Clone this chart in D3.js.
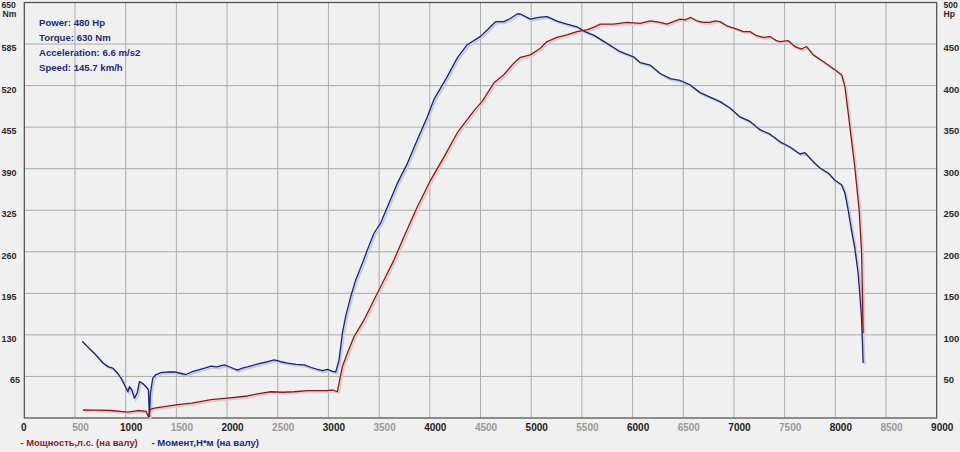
<!DOCTYPE html>
<html><head><meta charset="utf-8">
<script src="https://cdn.jsdelivr.net/npm/d3@7"></script>
<style>
html,body{margin:0;padding:0;background:#f0f0f0;}
svg{display:block;}
text{font-family:"Liberation Sans",Arial,sans-serif;font-weight:bold;}
</style></head>
<body><svg id="c" width="960" height="452"></svg>
<script>
// ---- data ----
const rpmTicks = [0,500,1000,1500,2000,2500,3000,3500,4000,4500,5000,5500,6000,6500,7000,7500,8000,8500,9000];
const torqueTicks = [65,130,195,260,325,390,455,520,585,650];
const powerTicks = [50,100,150,200,250,300,350,400,450,500];
const infoLines = ["Power: 480 Hp","Torque: 630 Nm","Acceleration: 6.6 m/s2","Speed: 145.7 km/h"];
const legendItems = ["- Мощность,л.с. (на валу)","- Момент,Н*м (на валу)"];

const torqueRpm = [571,620,692,775,830,873,920,955,988,1021,1037,1060,1086,1113,1136,1168,1201,1224,1234,1244,1267,1300,1349,1420,1480,1540,1595,1650,1710,1780,1841,1900,1972,2040,2104,2150,2202,2270,2334,2400,2465,2530,2596,2680,2760,2830,2892,2940,2990,3040,3072,3105,3138,3170,3220,3269,3335,3384,3449,3515,3597,3679,3778,3876,3975,4040,4172,4270,4369,4500,4566,4648,4730,4795,4861,4894,4992,5091,5156,5255,5353,5452,5534,5616,5747,5878,6009,6075,6174,6272,6370,6469,6568,6666,6764,6863,6961,7060,7158,7257,7355,7454,7552,7651,7700,7782,7848,7930,7995,8061,8094,8127,8159,8192,8225,8241,8258,8268,8274];
const torqueNm = [120,112,101,86,80,78,70,62,52,41,49,44,31,39,57,54,49,44,2,39,62,68,71,72,72,70,68,72,75,78,81,80,83,79,75,78,80,83,86,88,91,88,86,84,83,79,76,74,76,73,72,91,133,159,190,216,242,263,289,305,336,367,398,435,471,498,534,563,584,597,607,620,620,625,632,632,624,627,628,621,616,612,604,599,586,573,565,556,552,539,531,528,521,509,502,495,485,471,464,451,444,432,424,413,415,401,391,383,372,365,352,325,294,266,226,195,158,117,86];

const powerRpm = [578,700,857,950,1021,1120,1201,1224,1244,1283,1400,1513,1650,1750,1841,2005,2202,2300,2432,2550,2662,2793,2900,2990,3040,3088,3138,3187,3253,3351,3449,3548,3646,3745,3876,4007,4139,4270,4369,4450,4517,4631,4730,4828,4894,4992,5091,5156,5255,5353,5452,5550,5616,5681,5813,5944,6075,6174,6223,6272,6338,6403,6469,6518,6574,6633,6699,6764,6814,6863,6929,7027,7093,7158,7224,7290,7355,7421,7454,7536,7601,7667,7716,7782,7880,7995,8061,8094,8127,8159,8192,8235,8258,8268,8274];
const powerHp = [9.6,9.5,9,8,7,9,8,1.6,10.5,12,14,16,18,20,22,24,26.5,29,31.6,31,31.6,33,33,33,33.7,31.6,62,78,98,118,142,166,190,218,254,286,314,343,359,372,381,403,413,427,434,437,445,453,458,461,465,467,470,474,474,476,475,478,477,476,474,477,480,479,482,478,476,476,478,477,472,468,465,465,460,458,459,454,453,454,447,444,447,437,429,419,413,399,367,335,302,250,202,150,102];

// ---- chart ----
const svg = d3.select("#c");
const L = 24.3, R = 936.7, T = 2.5, B = 418;
const x = d3.scaleLinear().domain([0,9000]).range([L,R]);
const yT = d3.scaleLinear().domain([0,650]).range([B,T]);
const yP = d3.scaleLinear().domain([0,500]).range([B,T]);

const grid = svg.append("g").attr("stroke","#ababab").attr("stroke-width",1);
rpmTicks.filter(d=>d>0&&d<9000).forEach(d=>{
  grid.append("line").attr("x1",x(d)).attr("x2",x(d)).attr("y1",T).attr("y2",B);
});
torqueTicks.filter(d=>d<650).forEach(d=>{
  grid.append("line").attr("x1",L).attr("x2",R).attr("y1",yT(d)).attr("y2",yT(d));
});
svg.append("rect").attr("x",L).attr("y",T).attr("width",R-L).attr("height",B-T)
  .attr("fill","none").attr("stroke","#4a4a4a").attr("stroke-width",1.2);

// bottom axis labels
const xa = d3.axisBottom(x).tickValues(rpmTicks).tickSize(0).tickFormat(d=>String(d));
const gx = svg.append("g").attr("transform",`translate(0,${B})`).call(xa);
gx.select(".domain").remove();
gx.selectAll("text").attr("y",13).attr("dy",0).attr("dx",d=>d===0?-1:5)
  .attr("font-size",10).attr("font-family","Liberation Sans, Arial, sans-serif").attr("font-weight","bold")
  .attr("fill",d=>d%1000===0?"#1c1c1c":"#9a9a9a");

// left axis labels
const gl = svg.append("g");
torqueTicks.filter(d=>d<650).forEach(d=>{
  gl.append("text").attr("x",d<100?10:1.5).attr("y",yT(d)+7).attr("font-size",9).attr("fill","#2a2a2a").text(d);
});
gl.append("text").attr("x",1.5).attr("y",7.8).attr("font-size",8.6).attr("fill","#2a2a2a").text("650");
gl.append("text").attr("x",2.5).attr("y",17).attr("font-size",8.6).attr("fill","#2a2a2a").text("Nm");

// right axis labels
const gr = svg.append("g");
powerTicks.filter(d=>d<500).forEach(d=>{
  gr.append("text").attr("x",943.5).attr("y",yP(d)+7).attr("font-size",9.5).attr("fill","#2a2a2a").text(d);
});
gr.append("text").attr("x",943.5).attr("y",7.8).attr("font-size",8.6).attr("fill","#2a2a2a").text("500");
gr.append("text").attr("x",943.5).attr("y",17).attr("font-size",8.6).attr("fill","#2a2a2a").text("Hp");

// curves
const tData = torqueRpm.map((r,i)=>[r,torqueNm[i]]);
const pData = powerRpm.map((r,i)=>[r,powerHp[i]]);
const lineT = d3.line().x(d=>x(d[0])).y(d=>yT(d[1]));
const lineP = d3.line().x(d=>x(d[0])).y(d=>yP(d[1]));

svg.append("path").attr("d",lineT(tData)).attr("transform","translate(1.5,1.5)")
  .attr("fill","none").attr("stroke","#c6cbe4").attr("stroke-width",2);
svg.append("path").attr("d",lineP(pData)).attr("transform","translate(1.5,1.5)")
  .attr("fill","none").attr("stroke","#ecc6c6").attr("stroke-width",2);
svg.append("path").attr("d",lineT(tData)).attr("fill","none").attr("stroke","#1c2170").attr("stroke-width",1.3).attr("stroke-linejoin","round");
svg.append("path").attr("d",lineP(pData)).attr("fill","none").attr("stroke","#7e1c1c").attr("stroke-width",1.3).attr("stroke-linejoin","round");

// info box
svg.append("g").selectAll("text").data(infoLines).join("text")
  .attr("x",39).attr("y",(d,i)=>25.5+i*15).attr("font-size",9.6).attr("fill","#25287a").text(d=>d);

// legend
const lg = svg.append("g");
lg.append("text").attr("x",20.5).attr("y",446).attr("font-size",9.4).attr("fill","#8a1c1c").text(legendItems[0]);
lg.append("text").attr("x",151.5).attr("y",446).attr("font-size",9.6).attr("fill","#22287a").text(legendItems[1]);
</script></body></html>
